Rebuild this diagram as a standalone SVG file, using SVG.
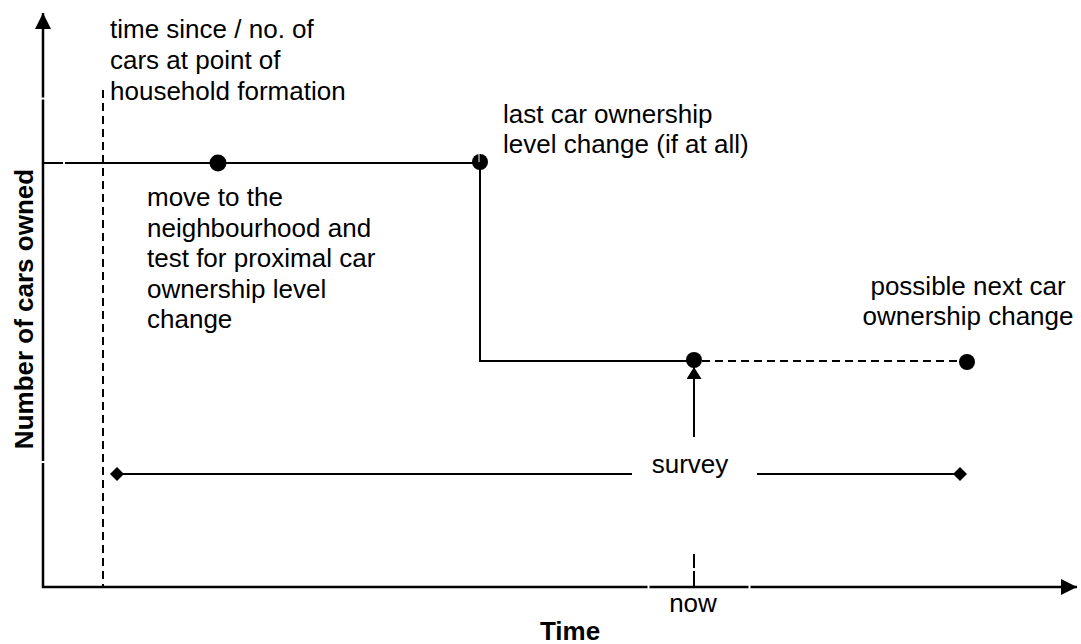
<svg xmlns="http://www.w3.org/2000/svg" width="1081" height="644" viewBox="0 0 1081 644">
  <style>
    .txt { font-family: "Liberation Sans", Arial, sans-serif; font-size: 26px; fill: #000; }
    .bold { font-weight: bold; }
    .line { stroke: #000; stroke-width: 2; fill: none; }
    .axis { stroke: #000; stroke-width: 2.5; fill: none; }
    .dash { stroke: #000; stroke-width: 2; fill: none; stroke-dasharray: 8 5; }
    .gap { stroke: #fff; stroke-width: 2; }
    .dot { fill: #000; }
  </style>
  <defs>
    <marker id="axisHead" viewBox="0 0 16 16" refX="16" refY="8" markerWidth="16" markerHeight="16" markerUnits="userSpaceOnUse" orient="auto">
      <path d="M0,0 L16,8 L0,16 Z" fill="#000"/>
    </marker>
    <marker id="surveyHead" viewBox="0 0 12 15" refX="12" refY="7.5" markerWidth="12" markerHeight="15" markerUnits="userSpaceOnUse" orient="auto">
      <path d="M0,0 L12,7.5 L0,15 Z" fill="#000"/>
    </marker>
  </defs>
  <rect width="1081" height="644" fill="#fff"/>

  <!-- axes -->
  <g id="axes">
    <line class="axis" x1="43" y1="588" x2="43" y2="13" marker-end="url(#axisHead)"/>
    <line class="axis" x1="42" y1="587" x2="1077" y2="587" marker-end="url(#axisHead)"/>
    <!-- segment joins -->
    <line class="gap" x1="41" y1="98.5" x2="45" y2="98.5"/>
    <line class="gap" x1="41" y1="462" x2="45" y2="462"/>
    <line class="gap" x1="648.5" y1="585" x2="648.5" y2="589"/>
    <line class="gap" x1="749.5" y1="585" x2="749.5" y2="589"/>
  </g>

  <!-- connectors -->
  <g id="connectors">
    <!-- household formation marker -->
    <line class="dash" x1="103" y1="90" x2="103" y2="587" stroke-dasharray="7 5"/>
    <!-- car ownership level over time -->
    <polyline class="line" points="43,163 480,163 480,361 694,361"/>
    <line class="gap" x1="64" y1="161.5" x2="64" y2="164.5"/>
    <line class="dash" x1="702" y1="361" x2="962" y2="361"/>
    <!-- survey pointer -->
    <line class="line" x1="694" y1="437" x2="694" y2="367" stroke-width="2.5" marker-end="url(#surveyHead)"/>
    <!-- observation window -->
    <line class="line" x1="117" y1="474" x2="632" y2="474" stroke-width="2.5"/>
    <line class="line" x1="757" y1="474" x2="960" y2="474" stroke-width="2.5"/>
    <!-- "now" tick -->
    <line class="line" x1="694" y1="554" x2="694" y2="568"/>
    <line class="line" x1="694" y1="571" x2="694" y2="587"/>
  </g>

  <!-- nodes -->
  <g id="move-dot"><circle class="dot" cx="218" cy="163" r="8.5"/></g>
  <g id="last-change-dot">
    <circle class="dot" cx="480" cy="162" r="8"/>
    <line stroke="#fff" stroke-width="1" x1="479" y1="154" x2="479" y2="162"/>
  </g>
  <g id="survey-dot"><circle class="dot" cx="694" cy="360" r="8"/></g>
  <g id="next-change-dot"><circle class="dot" cx="967" cy="362" r="8"/></g>
  <g id="window-start"><path class="dot" d="M117,467 L124,474 L117,481 L110,474 Z"/></g>
  <g id="window-end"><path class="dot" d="M960,467 L967,474 L960,481 L953,474 Z"/></g>

  <!-- labels -->
  <g id="label-formation">
    <text class="txt" x="110" y="38">time since / no. of</text>
    <text class="txt" x="110" y="69">cars at point of</text>
    <text class="txt" x="110" y="100">household formation</text>
  </g>
  <g id="label-last-change">
    <text class="txt" x="503" y="123">last car ownership</text>
    <text class="txt" x="503" y="153">level change (if at all)</text>
  </g>
  <g id="label-move">
    <text class="txt" x="147" y="206">move to the</text>
    <text class="txt" x="147" y="237">neighbourhood and</text>
    <text class="txt" x="147" y="267">test for proximal car</text>
    <text class="txt" x="147" y="298">ownership level</text>
    <text class="txt" x="147" y="328">change</text>
  </g>
  <g id="label-next-change">
    <text class="txt" x="968" y="295" text-anchor="middle">possible next car</text>
    <text class="txt" x="968" y="325" text-anchor="middle">ownership change</text>
  </g>
  <g id="label-survey"><text class="txt" x="690" y="473" text-anchor="middle">survey</text></g>
  <g id="label-now"><text class="txt" x="693" y="612" text-anchor="middle">now</text></g>
  <g id="label-time"><text class="txt bold" x="570" y="640" text-anchor="middle" font-size="24">Time</text></g>
  <g id="label-y"><text class="txt bold" transform="translate(33,309) rotate(-90)" text-anchor="middle">Number of cars owned</text></g>
</svg>
